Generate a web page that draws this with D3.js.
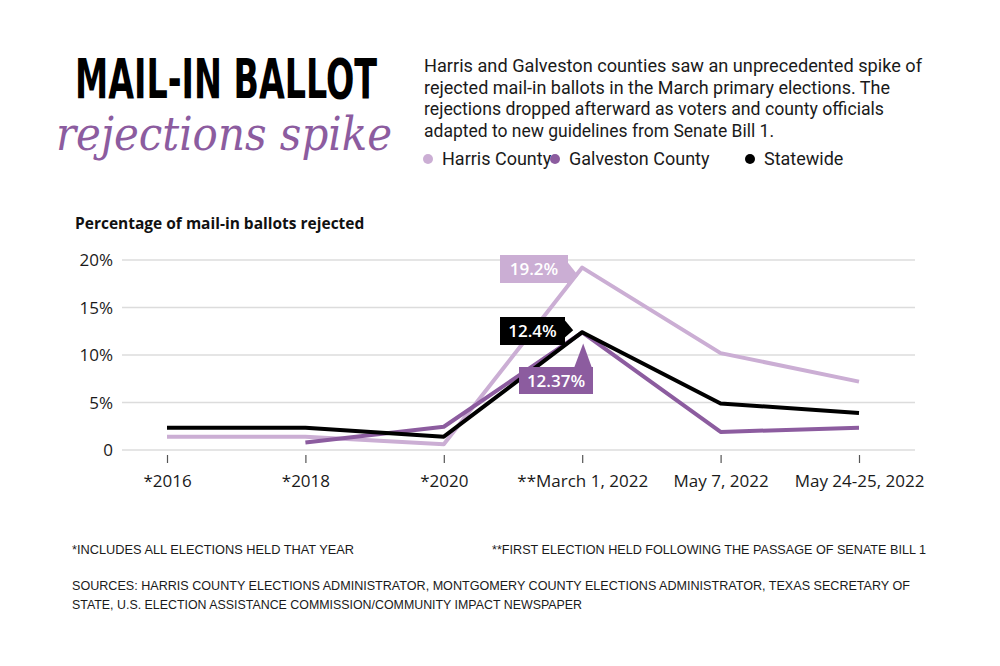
<!DOCTYPE html>
<html>
<head>
<meta charset="utf-8">
<script src="https://cdn.jsdelivr.net/npm/d3@7"></script>
<style>
  body { margin: 0; background: #fff; }
  svg { display: block; font-family: "Open Sans", sans-serif; }
</style>
</head>
<body>
<svg id="chart" width="1000" height="666"></svg>
<script>
// data
var elections = ["*2016", "*2018", "*2020", "**March 1, 2022", "May 7, 2022", "May 24-25, 2022"]
var harris = [1.4, 1.4, 0.6, 19.2, 10.2, 7.2]
var galveston = [null, 0.8, 2.45, 12.37, 1.9, 2.35]
var statewide = [2.35, 2.35, 1.4, 12.4, 4.9, 3.9]
var yTicks = [0, 5, 10, 15, 20]
var yTickLabels = ["0", "5%", "10%", "15%", "20%"]

var colors = { harris: "#cbaed4", galveston: "#8c5c9f", statewide: "#000000" }

var svg = d3.select("#chart")
svg.append("rect").attr("width", 1000).attr("height", 666).attr("fill", "#fff")

// headline
svg.append("text")
    .attr("x", 75).attr("y", 98)
    .attr("textLength", 302).attr("lengthAdjust", "spacingAndGlyphs")
    .style("font-family", "'DejaVu Sans Condensed', 'DejaVu Sans', sans-serif")
    .style("font-weight", "bold")
    .style("font-size", "56px")
    .attr("fill", "#000")
    .text("MAIL-IN BALLOT")

svg.append("text")
    .attr("x", 56).attr("y", 150)
    .attr("textLength", 336).attr("lengthAdjust", "spacingAndGlyphs")
    .style("font-family", "'DejaVu Serif', serif")
    .style("font-style", "italic")
    .style("font-size", "46px")
    .attr("fill", colors.galveston)
    .text("rejections spike")

// intro
var intro = [
    "Harris and Galveston counties saw an unprecedented spike of",
    "rejected mail-in ballots in the March primary elections. The",
    "rejections dropped afterward as voters and county officials",
    "adapted to new guidelines from Senate Bill 1."
]
var introWidths = [498, 466, 460, 350]
svg.append("g").selectAll("text")
    .data(intro)
    .enter().append("text")
    .attr("x", 424)
    .attr("y", (d, i) => 72 + i * 21.6)
    .attr("textLength", (d, i) => introWidths[i]).attr("lengthAdjust", "spacingAndGlyphs")
    .style("font-family", "Roboto, sans-serif")
    .style("font-size", "17.5px")
    .attr("fill", "#1a1a1a")
    .text(d => d)

// legend
var legend = [
    { name: "Harris County", color: colors.harris, x: 428 },
    { name: "Galveston County", color: colors.galveston, x: 555 },
    { name: "Statewide", color: colors.statewide, x: 750 }
]
var lg = svg.append("g").selectAll("g").data(legend).enter().append("g")
lg.append("circle").attr("cx", d => d.x).attr("cy", 159).attr("r", 5).attr("fill", d => d.color)
lg.append("text").attr("x", d => d.x + 14).attr("y", 165)
    .style("font-family", "Roboto, sans-serif")
    .style("font-size", "18px").attr("fill", "#1a1a1a").text(d => d.name)

svg.append("text")
    .attr("x", 75).attr("y", 229)
    .style("font-size", "15.5px").style("font-weight", "bold")
    .attr("fill", "#111")
    .text("Percentage of mail-in ballots rejected")

// scales
var x = d3.scalePoint().domain(elections).range([167, 859])
var y = d3.scaleLinear().domain([0, 20]).range([450, 260])

// grid
svg.append("g").selectAll("line")
    .data(yTicks)
    .enter().append("line")
    .attr("x1", 122).attr("x2", 915)
    .attr("y1", d => y(d)).attr("y2", d => y(d))
    .attr("stroke", "#dcdcdc").attr("stroke-width", 1.5)

svg.append("g").selectAll("text")
    .data(yTicks)
    .enter().append("text")
    .attr("x", 113).attr("y", d => y(d) + 6)
    .attr("text-anchor", "end")
    .style("font-size", "17px").attr("fill", "#1a1a1a")
    .text((d, i) => yTickLabels[i])

// x axis
var xAxis = svg.append("g")
    .attr("transform", "translate(0,455)")
    .call(d3.axisBottom(x).tickSize(8).tickPadding(12))
xAxis.select(".domain").remove()
xAxis.selectAll(".tick line").attr("stroke", "#555").attr("stroke-width", 1.2)
xAxis.selectAll(".tick text")
    .style("font-family", "'Open Sans', sans-serif")
    .style("font-size", "17px").attr("fill", "#1a1a1a")

// lines
var line = d3.line()
    .defined(d => d != null)
    .x((d, i) => x(elections[i]))
    .y(d => y(d))

var series = [
    { values: harris, color: colors.harris },
    { values: galveston, color: colors.galveston },
    { values: statewide, color: colors.statewide }
]
svg.append("g").selectAll("path")
    .data(series)
    .enter().append("path")
    .attr("d", d => line(d.values))
    .attr("fill", "none")
    .attr("stroke", d => d.color)
    .attr("stroke-width", 4)
    .attr("stroke-linejoin", "round")

// callouts at March 1
var mx = x(elections[3])
function callout(value, color, bx, by, bw, bh, pointer) {
    var g = svg.append("g")
    g.append("path").attr("d", pointer).attr("fill", color)
    g.append("rect").attr("x", bx).attr("y", by).attr("width", bw).attr("height", bh).attr("fill", color)
    g.append("text")
        .attr("x", bx + bw / 2).attr("y", by + bh / 2 + 6)
        .attr("text-anchor", "middle")
        .style("font-size", "17px").style("font-weight", "600")
        .attr("fill", "#fff")
        .text(value)
}
var hy = y(harris[3]), sy = y(statewide[3]), gy = y(galveston[3])
callout("19.2%", colors.harris, 500, 255, 68, 28,
    "M567," + (hy - 6) + "L" + (mx - 4) + "," + (hy + 8) + "L567," + (hy + 20) + "Z")
callout("12.4%", colors.statewide, 500, 317, 65, 28,
    "M564," + (sy - 13) + "L" + (mx - 9) + "," + (sy - 2) + "L564," + (sy + 6) + "Z")
callout(galveston[3] + "%", colors.galveston, 519, 367, 74, 27,
    "M574,368L" + (mx + 1) + "," + (gy + 11) + "L592,368Z")

// footnotes
function note(txt, xx, yy, w) {
    svg.append("text")
        .attr("x", xx).attr("y", yy)
        .attr("textLength", w).attr("lengthAdjust", "spacingAndGlyphs")
        .style("font-family", "'Liberation Sans Narrow', 'Liberation Sans', sans-serif")
        .style("font-size", "13.5px").attr("fill", "#1a1a1a")
        .text(txt)
}
note("*INCLUDES ALL ELECTIONS HELD THAT YEAR", 72, 554, 282)
note("**FIRST ELECTION HELD FOLLOWING THE PASSAGE OF SENATE BILL 1", 492, 554, 434)
note("SOURCES: HARRIS COUNTY ELECTIONS ADMINISTRATOR, MONTGOMERY COUNTY ELECTIONS ADMINISTRATOR, TEXAS SECRETARY OF", 72, 590, 838)
note("STATE, U.S. ELECTION ASSISTANCE COMMISSION/COMMUNITY IMPACT NEWSPAPER", 72, 609, 510)
</script>
</body>
</html>
